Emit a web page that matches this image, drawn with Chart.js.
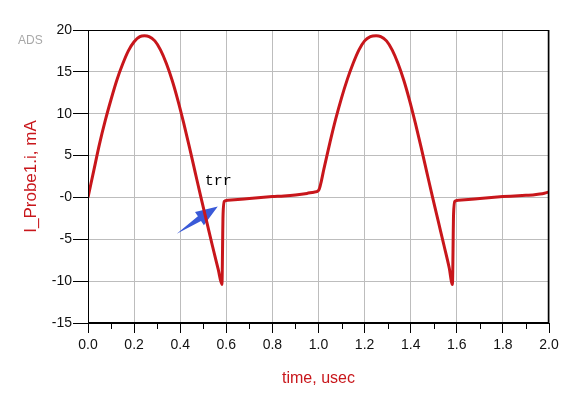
<!DOCTYPE html>
<html>
<head>
<meta charset="utf-8">
<script src="https://cdn.jsdelivr.net/npm/chart.js@4.4.0/dist/chart.umd.min.js"></script>
<style>
  html, body { margin: 0; padding: 0; background: #fff; }
  #wrap { width: 573px; height: 402px; }
</style>
</head>
<body>
<div id="wrap"><canvas id="chart1"></canvas></div>
<script>
// time, usec
const tVals = [
  0.00, 0.025, 0.05, 0.075, 0.10, 0.125, 0.15, 0.175, 0.20, 0.225, 0.245,
  0.265, 0.29, 0.315, 0.34, 0.365, 0.39, 0.415, 0.44, 0.465, 0.49,
  0.515, 0.54, 0.565, 0.581, 0.586, 0.592, 0.60, 0.65, 0.70, 0.75,
  0.80, 0.85, 0.90, 0.95, 0.98, 1.00,
  1.025, 1.05, 1.075, 1.10, 1.125, 1.15, 1.175, 1.20, 1.225, 1.25,
  1.27, 1.295, 1.32, 1.345, 1.37, 1.395, 1.42, 1.445, 1.47, 1.495,
  1.52, 1.545, 1.567, 1.581, 1.586, 1.592, 1.60, 1.65, 1.70, 1.75,
  1.80, 1.85, 1.90, 1.93, 1.96, 1.98, 2.00
];
// I_Probe1.i, mA
const iVals = [
  0.0, 3.2, 6.4, 9.2, 11.7, 14.0, 15.9, 17.5, 18.6, 19.2, 19.3,
  19.2, 18.7, 17.6, 16.0, 14.0, 11.6, 8.9, 6.0, 3.0, 0.0,
  -2.9, -5.8, -8.6, -10.4, -2.0, -0.45, -0.36, -0.25, -0.12, 0.0,
  0.1, 0.18, 0.3, 0.48, 0.63, 0.83,
  3.6, 6.6, 9.4, 11.9, 14.1, 16.0, 17.6, 18.7, 19.2, 19.3,
  19.2, 18.7, 17.6, 16.0, 14.0, 11.6, 8.9, 6.0, 3.0, 0.0,
  -2.9, -5.8, -8.4, -10.4, -2.0, -0.45, -0.36, -0.25, -0.12, 0.0,
  0.1, 0.18, 0.26, 0.3, 0.4, 0.5, 0.65
];
const yTicks = [-15, -10, -5, 0, 5, 10, 15, 20];

// annotation: "trr" label and arrow (data coordinates)
const trrLabel = { x: 0.565, y: 2.0, text: 'trr' };
const arrowTail = { x: 0.385, y: -4.33 };
const arrowTip = { x: 0.563, y: -1.07 };

const redColor = '#c8161b';
const gridColor = '#bdbdbd';

function isMajor(v) {
  return Math.round(v * 10) % 2 === 0;
}

const points = [];
for (let i = 0; i < tVals.length; i++) {
  points.push({ x: tVals[i], y: iVals[i] });
}

const extras = {
  id: 'extras',
  beforeDatasetsDraw(chart) {
    const c = chart.ctx;
    const xs = chart.scales.x, ys = chart.scales.y;
    const tx = xs.getPixelForValue(arrowTail.x), ty = ys.getPixelForValue(arrowTail.y);
    const px = xs.getPixelForValue(arrowTip.x), py = ys.getPixelForValue(arrowTip.y);
    const dx = px - tx, dy = py - ty;
    const len = Math.sqrt(dx * dx + dy * dy);
    const ux = dx / len, uy = dy / len;
    const nx = -uy, ny = ux;
    const bx = px - ux * 22, by = py - uy * 22;
    c.save();
    c.fillStyle = '#3a5ad8';
    c.beginPath();
    c.moveTo(tx, ty);
    c.lineTo(bx - nx * 2.8, by - ny * 2.8);
    c.lineTo(bx - nx * 8, by - ny * 8);
    c.lineTo(px, py);
    c.lineTo(bx + nx * 8, by + ny * 8);
    c.lineTo(bx + nx * 2.8, by + ny * 2.8);
    c.closePath();
    c.fill();
    c.restore();
  },
  afterDraw(chart) {
    const c = chart.ctx;
    const a = chart.chartArea;
    const xs = chart.scales.x, ys = chart.scales.y;
    c.save();
    // frame
    c.strokeStyle = '#000';
    c.lineWidth = 1;
    c.strokeRect(a.left + 0.5, a.top + 0.5, a.right - a.left - 1, a.bottom - a.top - 1);
    c.lineWidth = 1.5;
    c.beginPath();
    c.moveTo(a.right - 0.5, a.top);
    c.lineTo(a.right - 0.5, a.bottom);
    c.stroke();
    // minor ticks on time axis
    c.lineWidth = 1;
    xs.ticks.forEach(t => {
      if (!isMajor(t.value)) {
        const x = Math.round(xs.getPixelForValue(t.value)) + 0.5;
        c.beginPath();
        c.moveTo(x, a.bottom);
        c.lineTo(x, a.bottom + 6);
        c.stroke();
      }
    });
    // trr label
    c.fillStyle = '#000';
    c.font = '15px "Courier New", "Liberation Mono", monospace';
    c.textAlign = 'center';
    c.textBaseline = 'middle';
    c.fillText(trrLabel.text, xs.getPixelForValue(trrLabel.x), ys.getPixelForValue(trrLabel.y));
    // ADS tag
    c.fillStyle = '#a8a8a8';
    c.font = '12px "Liberation Sans", Arial, sans-serif';
    c.textAlign = 'left';
    c.fillText('ADS', 18, 41);
    c.restore();
  }
};

const ctx1 = document.getElementById('chart1');

new Chart(ctx1, {
  type: 'line',
  data: {
    datasets: [{
      label: 'I_Probe1.i',
      data: points,
      borderColor: redColor,
      borderWidth: 3,
      pointRadius: 0,
      fill: false,
      cubicInterpolationMode: 'monotone'
    }]
  },
  options: {
    responsive: true,
    maintainAspectRatio: false,
    animation: false,
    layout: {
      padding: { left: 0, top: 30, right: 24, bottom: 0 }
    },
    plugins: {
      legend: { display: false },
      tooltip: { enabled: false }
    },
    scales: {
      x: {
        type: 'linear',
        min: 0,
        max: 2,
        afterFit(s) { s.height = 79; },
        ticks: {
          stepSize: 0.1,
          autoSkip: false,
          maxRotation: 0,
          padding: 4,
          color: '#111',
          font: { family: '"Liberation Sans", Arial, sans-serif', size: 14 },
          callback: v => isMajor(v) ? v.toFixed(1) : ''
        },
        grid: {
          color: c => isMajor(c.tick.value) ? gridColor : 'rgba(0,0,0,0)',
          tickColor: c => isMajor(c.tick.value) ? '#000' : 'rgba(0,0,0,0)',
          tickLength: 10
        },
        border: { color: '#000' },
        title: {
          display: true,
          text: 'time, usec',
          color: redColor,
          font: { family: '"Liberation Sans", Arial, sans-serif', size: 16 },
          padding: { top: 0, bottom: 14 }
        }
      },
      y: {
        min: -15,
        max: 20,
        afterFit(s) { s.width = 88; },
        afterBuildTicks(s) { s.ticks = yTicks.map(v => ({ value: v })); },
        ticks: {
          padding: 1,
          color: '#111',
          font: { family: '"Liberation Sans", Arial, sans-serif', size: 14 },
          callback: v => v === 0 ? '-0' : String(v)
        },
        grid: {
          color: gridColor,
          tickColor: '#000',
          tickLength: 15
        },
        border: { color: '#000' },
        title: {
          display: true,
          text: 'I_Probe1.i, mA',
          color: redColor,
          font: { family: '"Liberation Sans", Arial, sans-serif', size: 17 },
          padding: { top: 21, bottom: 0 }
        }
      }
    }
  },
  plugins: [extras]
});
</script>
</body>
</html>
